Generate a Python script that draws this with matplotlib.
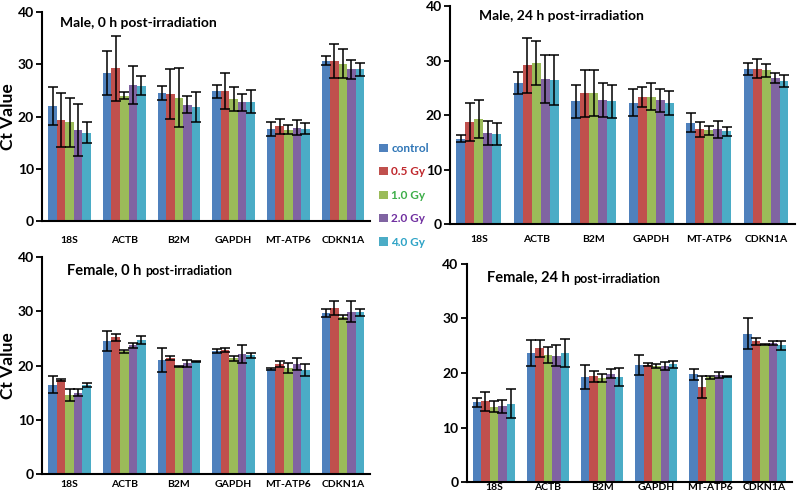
import numpy as np
import matplotlib
matplotlib.use('Agg')
import matplotlib.pyplot as plt
from matplotlib.patches import Patch

plt.rcParams['font.family'] = ['Lato', 'DejaVu Sans']
plt.rcParams['font.weight'] = 'bold'

genes = ['18S', 'ACTB', 'B2M', 'GAPDH', 'MT-ATP6', 'CDKN1A']
doses = ['control', '0.5 Gy', '1.0 Gy', '2.0 Gy', '4.0 Gy']
bar_colors = ['#4F81BD', '#C0504D', '#9BBB59', '#8064A2', '#4BACC6']
text_colors = ['#2E75B6', '#C0282D', '#3DAE49', '#7030A0', '#2EA3C6']

# rows = genes, columns = doses
male_0h_mean = [[22.0, 19.3, 18.9, 17.4, 16.9],
                [28.4, 29.2, 24.0, 26.0, 25.9],
                [24.5, 24.3, 23.6, 22.3, 21.8],
                [24.8, 24.9, 23.3, 22.7, 22.8],
                [17.6, 18.1, 17.5, 17.9, 17.7],
                [30.7, 30.6, 30.1, 29.0, 29.0]]
male_0h_err = [[3.6, 5.2, 4.7, 5.0, 2.0],
               [4.2, 6.2, 0.6, 3.6, 1.8],
               [1.3, 4.7, 5.6, 1.6, 2.8],
               [1.2, 3.5, 2.3, 1.7, 2.2],
               [1.4, 1.5, 0.9, 1.5, 1.1],
               [0.9, 3.2, 2.8, 1.8, 1.3]]

male_24h_mean = [[15.7, 18.7, 19.3, 16.7, 16.5],
                 [25.9, 29.1, 29.5, 26.6, 26.4],
                 [22.5, 24.0, 24.0, 22.7, 22.5],
                 [22.3, 23.3, 23.4, 22.7, 22.2],
                 [18.6, 17.4, 17.2, 17.4, 17.0],
                 [28.4, 28.5, 28.2, 26.8, 26.3]]
male_24h_err = [[0.6, 3.5, 3.5, 2.2, 2.0],
                [2.0, 5.1, 4.0, 4.4, 4.6],
                [3.1, 4.3, 4.2, 3.1, 3.0],
                [2.4, 1.9, 2.5, 2.1, 2.2],
                [1.7, 1.4, 0.8, 1.6, 0.9],
                [1.1, 1.7, 1.2, 1.0, 1.1]]

female_0h_mean = [[16.5, 17.3, 14.6, 15.0, 16.4],
                  [24.5, 25.2, 22.6, 23.7, 24.7],
                  [21.1, 21.4, 19.8, 20.4, 20.8],
                  [22.7, 22.9, 21.3, 22.1, 21.9],
                  [19.4, 20.3, 19.5, 20.2, 19.1],
                  [29.7, 30.6, 29.0, 29.9, 29.8]]
female_0h_err = [[1.5, 0.15, 1.1, 0.7, 0.3],
                 [1.9, 0.6, 0.2, 0.5, 0.7],
                 [2.2, 0.4, 0.1, 0.7, 0.1],
                 [0.3, 0.4, 0.4, 1.6, 0.5],
                 [0.2, 0.5, 0.9, 1.1, 1.1],
                 [0.7, 1.3, 0.4, 1.9, 0.7]]

female_24h_mean = [[14.6, 14.8, 13.8, 13.9, 14.4],
                   [23.6, 24.5, 23.3, 23.2, 23.7],
                   [19.3, 19.4, 19.1, 19.9, 19.3],
                   [21.5, 21.5, 21.3, 21.3, 21.6],
                   [19.8, 17.5, 19.2, 19.6, 19.4],
                   [27.2, 25.8, 25.2, 25.5, 25.1]]
female_24h_err = [[0.9, 1.7, 1.0, 1.2, 2.6],
                  [2.4, 1.6, 1.5, 2.0, 2.6],
                  [2.2, 1.0, 0.7, 0.9, 1.6],
                  [1.8, 0.3, 0.4, 0.8, 0.6],
                  [1.0, 2.0, 0.3, 0.6, 0.1],
                  [2.8, 0.7, 0.1, 0.4, 0.8]]

fig = plt.figure(figsize=(7.98, 4.97), dpi=100)

# rect, means, errors, title, title tail, title pos, x label pad, ylabel
panels = [
    ([0.053, 0.555, 0.411, 0.421], male_0h_mean, male_0h_err,
     'Male, 0 h post-irradiation', None, (0.055, 0.975), 11, True),
    ([0.564, 0.549, 0.432, 0.439], male_24h_mean, male_24h_err,
     'Male, 24 h post-irradiation', None, (0.084, 0.98), 8, False),
    ([0.053, 0.046, 0.411, 0.437], female_0h_mean, female_0h_err,
     'Female, 0 h ', 'post-irradiation', (0.076, 0.92), 4.5, True),
    ([0.585, 0.030, 0.407, 0.439], female_24h_mean, female_24h_err,
     'Female, 24 h ', 'post-irradiation', (0.062, 0.917), 1, False),
]

x = np.arange(len(genes))
width = 0.156

for rect, mean, err, title, title2, tpos, xpad, ylab in panels:
    ax = fig.add_axes(rect)
    mean = np.array(mean).T
    err = np.array(err).T
    for j in range(len(doses)):
        pos = x + (j - 2) * width
        ax.bar(pos, mean[j], width, color=bar_colors[j], zorder=2)
        ax.errorbar(pos, mean[j], yerr=err[j], fmt='none', ecolor='black',
                    elinewidth=1.1, capsize=3.3, capthick=1.1, zorder=3)
    ax.set_xlim(-0.5, 5.5)
    ax.set_ylim(0, 40)
    ax.set_yticks([0, 10, 20, 30, 40])
    ax.set_xticks(x)
    ax.set_xticklabels(genes, fontsize=7.5, fontweight='bold')
    ax.tick_params(axis='x', length=0, pad=xpad)
    ax.tick_params(axis='y', labelsize=10, width=1.3, length=4, pad=2)
    for s in ['top', 'right']:
        ax.spines[s].set_visible(False)
    for s in ['left', 'bottom']:
        ax.spines[s].set_linewidth(1.5)
    if title2 is None:
        ax.text(tpos[0], tpos[1], title, transform=ax.transAxes, fontsize=10,
                fontweight='bold', va='top', ha='left')
    else:
        t1 = ax.text(tpos[0], tpos[1], title, transform=ax.transAxes, fontsize=10.5,
                     fontweight='bold', va='baseline', ha='left')
        ax.annotate(title2, xy=(1, 0), xycoords=t1, fontsize=9,
                    fontweight='bold', va='bottom', ha='left')
    if ylab:
        ax.set_ylabel('Ct Value', fontsize=12.5, fontweight='bold')
        ax.yaxis.set_label_coords(-0.08, 0.5)

handles = [Patch(facecolor=c) for c in bar_colors]
fig.legend(handles, doses, loc='center left', bbox_to_anchor=(0.468, 0.607),
           frameon=False, fontsize=8.5, labelcolor=text_colors,
           handlelength=0.7, handleheight=0.7, handletextpad=0.3,
           labelspacing=1.05, borderpad=0)

fig.savefig('out.png', dpi=100)
